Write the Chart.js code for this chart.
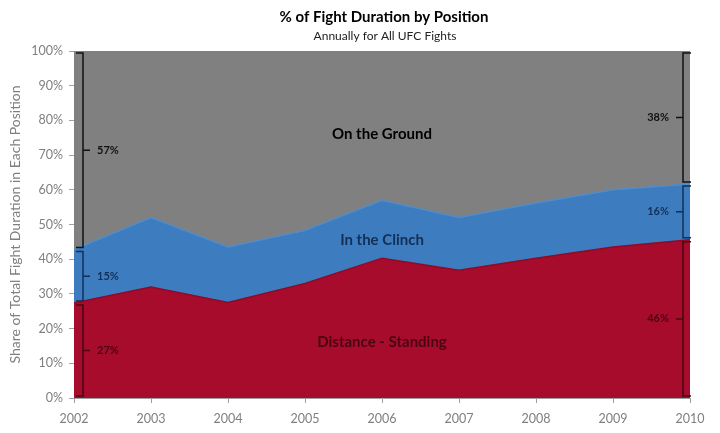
<!DOCTYPE html>
<html>
<head>
<meta charset="utf-8">
<script src="https://cdn.jsdelivr.net/npm/chart.js@4"></script>
<style>
  body { margin: 0; background: #fff; }
  canvas { display: block; }
</style>
</head>
<body>
<canvas id="fightChart" width="720" height="433"></canvas>
<script>
// Datos (% del tiempo de combate)
const years = ['2002', '2003', '2004', '2005', '2006', '2007', '2008', '2009', '2010'];
const standing = [27.4, 32.0, 27.5, 33.0, 40.3, 36.8, 40.3, 43.5, 45.6];
const clinch = [15.4, 20.0, 16.0, 15.3, 16.7, 15.2, 15.9, 16.5, 16.1];
const ground = [57.2, 48.0, 56.5, 51.7, 43.0, 48.0, 43.8, 40.0, 38.3];
const seriesNames = ['Distance - Standing', 'In the Clinch', 'On the Ground'];
const yTicks = [0, 10, 20, 30, 40, 50, 60, 70, 80, 90, 100];

const FONT = 'Lato, "Open Sans", sans-serif';
const fillColors = ['#A80C2C', '#3D7DBF', '#808080'];
const edgeColors = ['#8E0A26', '#4F8CCB', '#808080'];
const darkColors = ['#4A0512', '#142F55', '#111111'];

// Corchetes con el porcentaje al principio y al final
const bracketPlugin = {
    id: 'brackets',
    afterDatasetsDraw(chart) {
        const { ctx, scales: { x, y } } = chart;
        const series = [standing, clinch, ground];
        const draw = (idx, side) => {
            const xv = x.getPixelForValue(idx);
            const lineX = side === 'left' ? xv + 9 : xv - 7;
            const capX = side === 'left' ? xv + 2 : xv + 1;
            const dir = side === 'left' ? 1 : -1;
            let base = 0;
            series.forEach((s, i) => {
                const v = s[idx];
                const top = base + v;
                const y0 = y.getPixelForValue(base) - 2;
                const y1 = y.getPixelForValue(top) + 2;
                const mid = (y0 + y1) / 2;
                ctx.save();
                ctx.strokeStyle = darkColors[i];
                ctx.lineWidth = 1.5;
                ctx.beginPath();
                ctx.moveTo(capX, y0);
                ctx.lineTo(lineX, y0);
                ctx.lineTo(lineX, y1);
                ctx.lineTo(capX, y1);
                ctx.moveTo(lineX, mid);
                ctx.lineTo(lineX + dir * 7, mid);
                ctx.stroke();
                ctx.fillStyle = darkColors[i];
                ctx.font = 'bold 11px ' + FONT;
                ctx.textBaseline = 'middle';
                ctx.textAlign = side === 'left' ? 'left' : 'right';
                ctx.fillText(Math.round(v) + '%', lineX + dir * 14, mid);
                ctx.restore();
                base = top;
            });
        };
        draw(0, 'left');
        draw(years.length - 1, 'right');
    }
};

// Etiquetas dentro de las areas y titulo
const textPlugin = {
    id: 'texts',
    afterDraw(chart) {
        const { ctx, scales: { x, y } } = chart;
        const cx = x.getPixelForValue(4);
        const inner = [[16, darkColors[0]], [45.5, darkColors[1]], [76, '#000']];
        ctx.save();
        ctx.textAlign = 'center';
        ctx.textBaseline = 'middle';
        ctx.font = 'bold 15px ' + FONT;
        inner.forEach(([val, col], i) => {
            ctx.fillStyle = col;
            ctx.fillText(seriesNames[i], cx, y.getPixelForValue(val));
        });
        ctx.fillStyle = '#000';
        ctx.font = 'bold 15px ' + FONT;
        ctx.fillText('% of Fight Duration by Position', 384, 17);
        ctx.font = '12px ' + FONT;
        ctx.fillStyle = '#222';
        ctx.fillText('Annually for All UFC Fights', 385, 36);
        ctx.restore();
    }
};

const ctx = document.getElementById('fightChart').getContext('2d');
new Chart(ctx, {
    type: 'line',
    data: {
        labels: years,
        datasets: [standing, clinch, ground].map((d, i) => ({
            label: seriesNames[i],
            data: d,
            backgroundColor: fillColors[i],
            borderColor: edgeColors[i],
            borderWidth: 1.5,
            pointRadius: 0,
            tension: 0,
            fill: i === 0 ? 'origin' : '-1'
        }))
    },
    options: {
        responsive: false,
        animation: false,
        layout: { padding: { top: 51, right: 30, left: 0, bottom: 0 } },
        plugins: {
            legend: { display: false },
            tooltip: { enabled: false }
        },
        scales: {
            x: {
                offset: false,
                grid: { drawOnChartArea: false, tickLength: 5, color: '#a0a0a0' },
                border: { color: '#a0a0a0' },
                ticks: { color: '#7f7f7f', font: { family: FONT, size: 12.5 }, padding: 8, maxRotation: 0 },
                afterFit(scale) { scale.height = 35; }
            },
            y: {
                stacked: true,
                min: 0,
                max: 100,
                afterBuildTicks(scale) { scale.ticks = yTicks.map(v => ({ value: v })); },
                grid: { drawOnChartArea: false, tickLength: 5, color: '#a0a0a0' },
                border: { color: '#a0a0a0' },
                ticks: {
                    color: '#7f7f7f',
                    font: { family: FONT, size: 12.5 },
                    padding: 6,
                    callback: v => v + '%'
                },
                title: {
                    display: true,
                    text: 'Share of Total Fight Duration in Each Position',
                    color: '#7f7f7f',
                    font: { family: FONT, size: 14 },
                    padding: { top: 7, bottom: 2 }
                },
                afterFit(scale) { scale.width = 74; }
            }
        }
    },
    plugins: [bracketPlugin, textPlugin]
});
</script>
</body>
</html>
